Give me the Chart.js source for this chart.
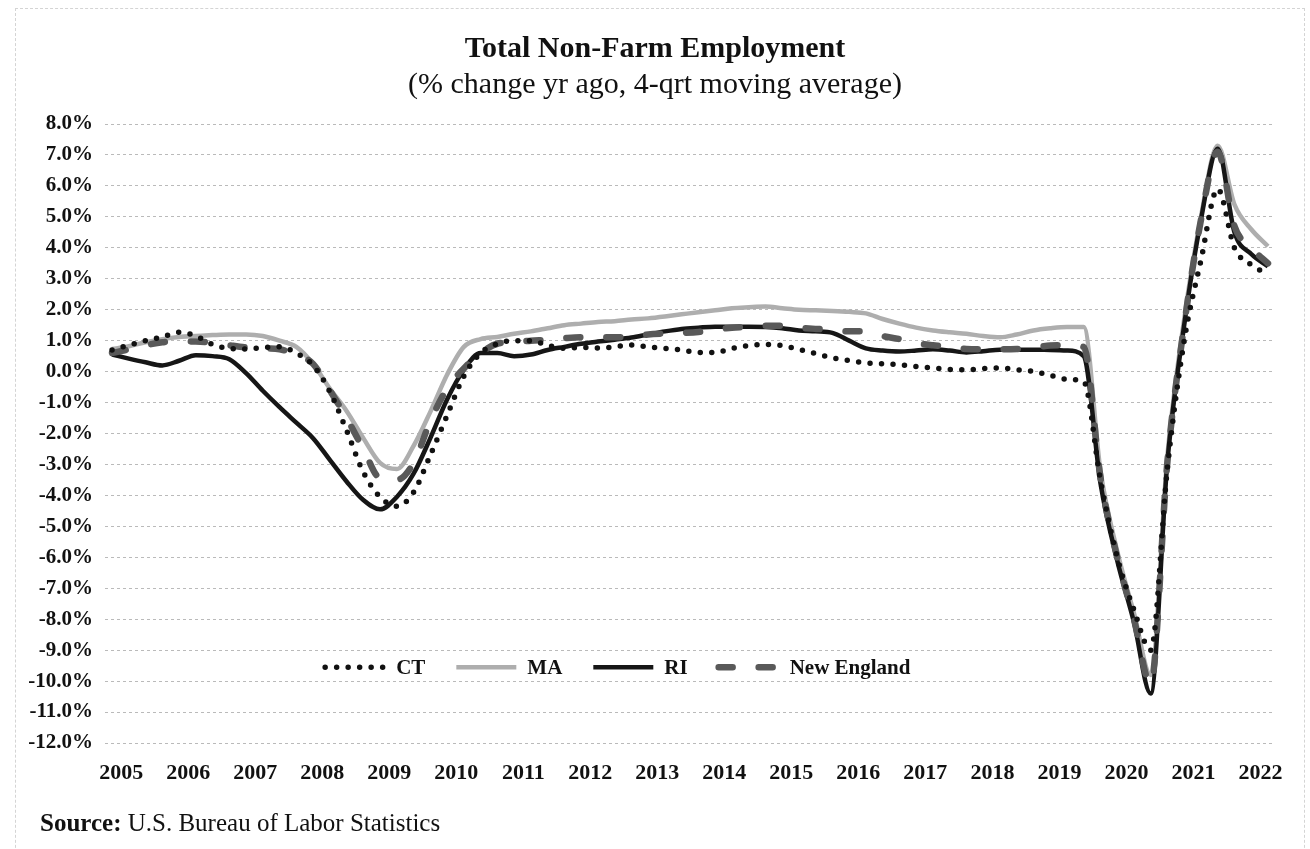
<!DOCTYPE html>
<html>
<head>
<meta charset="utf-8">
<script src="https://cdn.jsdelivr.net/npm/chart.js@4.4.0/dist/chart.umd.min.js"></script>
<style>
  html, body { margin: 0; padding: 0; background: #fff; }
  #wrap { position: relative; width: 1310px; height: 849px; overflow: hidden; }
  #frame { position: absolute; left: 15px; top: 8px; width: 1290px; height: 900px; border: 1px dashed #d4d4d4; box-sizing: border-box; }
  #myChart { position: absolute; left: 0; top: 0; display: block; }
  #source { position: absolute; left: 40px; top: 809px; font: 25px "Liberation Serif", "Times New Roman", serif; color: #111; white-space: nowrap; }
</style>
</head>
<body>
<div id="wrap">
  <div id="frame"></div>
  <canvas id="myChart" width="1310" height="849"></canvas>
  <div id="source"><b>Source:</b> U.S. Bureau of Labor Statistics</div>
</div>

<script>
// quarterly, 2005 Q1 .. 2022 Q2
var yearLabels = ['2005', '2006', '2007', '2008', '2009', '2010', '2011', '2012', '2013',
                  '2014', '2015', '2016', '2017', '2018', '2019', '2020', '2021', '2022'];
var yTickValues = [8, 7, 6, 5, 4, 3, 2, 1, 0, -1, -2, -3, -4, -5, -6, -7, -8, -9, -10, -11, -12];

var ctValues = [0.7, 0.85, 1.0, 1.12, 1.27, 1.15, 0.88, 0.75, 0.73, 0.78, 0.8, 0.6,
  0.2, -0.65, -1.9, -3.25, -4.05, -4.35, -3.9, -2.7, -1.42, -0.15, 0.6, 0.9,
  1.0, 1.0, 0.85, 0.75, 0.78, 0.76, 0.8, 0.86, 0.8, 0.75, 0.7, 0.62,
  0.62, 0.75, 0.84, 0.88, 0.84, 0.72, 0.58, 0.44, 0.36, 0.28, 0.25, 0.22,
  0.16, 0.12, 0.07, 0.06, 0.1, 0.12, 0.06, 0.01, -0.12, -0.25, -0.32, -3.5,
  -6.0, -7.7, -9.0, -3.1, 1.0, 3.6, 5.9, 4.0, 3.45, 3.15];

var maValues = [0.73, 0.82, 0.95, 1.05, 1.12, 1.15, 1.18, 1.2, 1.2, 1.15, 1.0, 0.8,
  0.25, -0.55, -1.27, -2.15, -2.95, -3.15, -2.4, -1.3, -0.1, 0.8, 1.05, 1.12,
  1.22, 1.3, 1.4, 1.5, 1.55, 1.6, 1.63, 1.68, 1.72, 1.78, 1.85, 1.92,
  1.98, 2.05, 2.08, 2.1, 2.05, 2.0, 1.98, 1.96, 1.93, 1.88, 1.7, 1.55,
  1.42, 1.33, 1.27, 1.22, 1.15, 1.11, 1.2, 1.33, 1.4, 1.44, 1.44, -3.2,
  -5.8, -7.8, -9.8, -2.7, 1.7, 5.0, 7.3, 5.4, 4.6, 4.05];

var riValues = [0.55, 0.42, 0.3, 0.2, 0.35, 0.53, 0.5, 0.4, -0.05, -0.62, -1.15, -1.65,
  -2.15, -2.85, -3.55, -4.15, -4.45, -4.05, -3.3, -2.15, -0.9, 0.06, 0.6, 0.6,
  0.5, 0.55, 0.7, 0.8, 0.9, 0.97, 1.03, 1.1, 1.2, 1.3, 1.38, 1.42,
  1.45, 1.45, 1.45, 1.44, 1.4, 1.33, 1.3, 1.25, 1.0, 0.75, 0.68, 0.65,
  0.68, 0.72, 0.68, 0.62, 0.66, 0.71, 0.71, 0.71, 0.7, 0.68, 0.5, -3.6,
  -6.1, -8.1, -10.4, -2.9, 1.5, 4.9, 7.2, 4.5, 3.8, 3.4];

var neValues = [0.6, 0.72, 0.85, 0.95, 0.98, 0.97, 0.93, 0.85, 0.78, 0.75, 0.72, 0.55,
  0.25, -0.6, -1.5, -2.5, -3.45, -3.5, -2.95, -1.6, -0.55, 0.1, 0.6, 0.9,
  0.95, 1.0, 1.03, 1.08, 1.11, 1.11, 1.11, 1.13, 1.2, 1.23, 1.25, 1.28,
  1.35, 1.42, 1.45, 1.48, 1.48, 1.42, 1.38, 1.35, 1.3, 1.3, 1.15, 1.05,
  0.92, 0.85, 0.8, 0.73, 0.72, 0.72, 0.73, 0.78, 0.84, 0.85, 0.8, -3.4,
  -6.0, -8.0, -10.1, -2.9, 1.5, 4.9, 7.1, 4.7, 4.0, 3.5];

var serif = '"Liberation Serif", "Times New Roman", serif';
var ink = '#111111';

// one point per quarter: x = quarter index
function toPoints(values) {
  return values.map(function (v, i) { return { x: i, y: v }; });
}

// legend drawn inside the plot area, like the original
var insideLegend = {
  id: 'insideLegend',
  afterDatasetsDraw: function (chart) {
    var ctx = chart.ctx;
    var area = chart.chartArea;
    var y = chart.scales.y.getPixelForValue(-9.55);
    var sampleLen = 66, gapText = 8, gapItem = 28;
    var sets = chart.data.datasets;
    ctx.save();
    ctx.font = 'bold 21px ' + serif;
    var total = 0;
    sets.forEach(function (d) { total += sampleLen + gapText + ctx.measureText(d.label).width; });
    total += gapItem * (sets.length - 1);
    var x = area.left + area.width * 0.437 - total / 2;
    sets.forEach(function (d) {
      ctx.beginPath();
      ctx.strokeStyle = d.borderColor;
      ctx.lineWidth = d.borderWidth;
      ctx.setLineDash(d.borderDash || []);
      ctx.lineCap = d.borderCapStyle || 'butt';
      ctx.moveTo(x + 3, y);
      ctx.lineTo(x + sampleLen - 3, y);
      ctx.stroke();
      ctx.setLineDash([]);
      ctx.fillStyle = ink;
      ctx.textBaseline = 'middle';
      ctx.textAlign = 'left';
      ctx.fillText(d.label, x + sampleLen + gapText, y + 1);
      x += sampleLen + gapText + ctx.measureText(d.label).width + gapItem;
    });
    ctx.restore();
  }
};

var ctx = document.getElementById('myChart').getContext('2d');
var myChart = new Chart(ctx, {
  type: 'line',
  data: {
    datasets: [
      { label: 'CT', data: toPoints(ctValues), borderColor: '#111111', borderWidth: 5.5,
        borderDash: [0, 11.5], borderCapStyle: 'round', order: 0 },
      { label: 'MA', data: toPoints(maValues), borderColor: '#aeaeae', borderWidth: 4.5, order: 3 },
      { label: 'RI', data: toPoints(riValues), borderColor: '#161616', borderWidth: 4.5, order: 2 },
      { label: 'New England', data: toPoints(neValues), borderColor: '#595959', borderWidth: 6.5,
        borderDash: [14, 26], borderCapStyle: 'round', order: 1 }
    ]
  },
  options: {
    responsive: false,
    animation: false,
    layout: { padding: { left: 0, right: 0, top: 0, bottom: 66 } },
    elements: {
      point: { radius: 0 },
      line: { cubicInterpolationMode: 'monotone', fill: false }
    },
    scales: {
      x: {
        type: 'linear',
        min: -0.42,
        max: 69.42,
        afterFit: function (s) { s.height = 40; },
        afterBuildTicks: function (s) {
          s.ticks = yearLabels.map(function (y, k) { return { value: k * 4 + 0.55 }; });
        },
        ticks: {
          autoSkip: false, maxRotation: 0, padding: 9, color: ink,
          font: { family: serif, size: 22, weight: 'bold' },
          callback: function (v, i) { return yearLabels[i]; }
        },
        grid: { display: false },
        border: { display: false }
      },
      y: {
        min: -12,
        max: 8,
        afterFit: function (s) { s.width = 105; },
        afterBuildTicks: function (s) {
          s.ticks = yTickValues.map(function (v) { return { value: v }; });
        },
        ticks: {
          padding: 12, color: ink,
          font: { family: serif, size: 21, weight: 'bold' },
          callback: function (v) { return v.toFixed(1) + '%'; }
        },
        grid: { color: 'rgba(130,130,130,0.55)', lineWidth: 1, drawTicks: false, borderDash: [3, 3] },
        border: { display: false, dash: [3, 3] }
      },
      yRight: {
        position: 'right',
        afterFit: function (s) { s.width = 35; },
        ticks: { display: false },
        grid: { display: false },
        border: { display: false }
      }
    },
    plugins: {
      legend: { display: false },
      tooltip: { enabled: false },
      title: {
        display: true,
        text: 'Total Non-Farm Employment',
        color: ink,
        font: { family: serif, size: 30, weight: 'bold', lineHeight: 1.2 },
        padding: { top: 31, bottom: 0 }
      },
      subtitle: {
        display: true,
        text: '(% change yr ago, 4-qrt moving average)',
        color: ink,
        font: { family: serif, size: 30, weight: 'normal', lineHeight: 1.2 },
        padding: { top: 0, bottom: 21 }
      }
    }
  },
  plugins: [insideLegend]
});
</script>
</body>
</html>
